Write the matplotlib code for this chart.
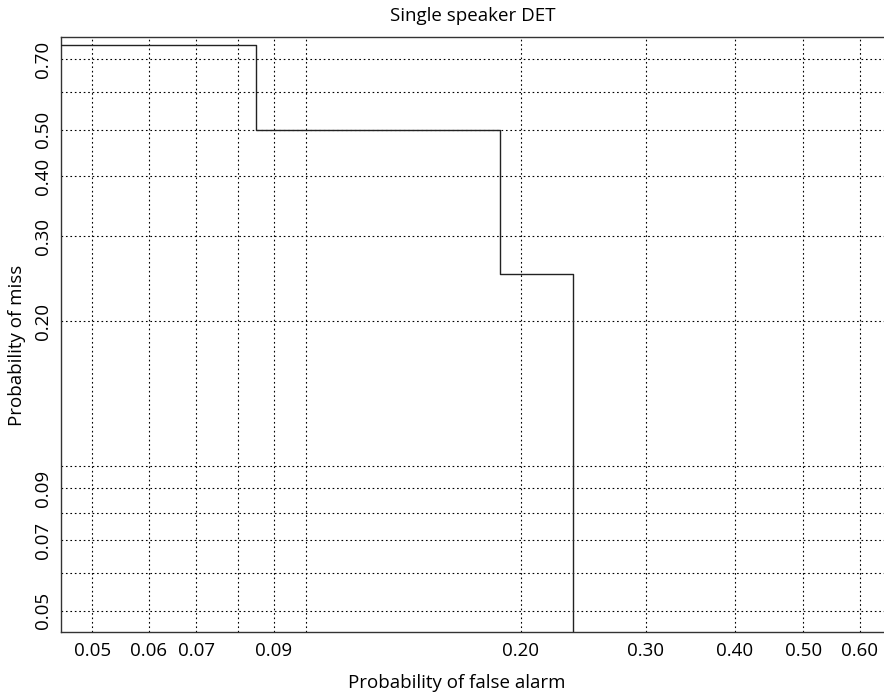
import numpy as np
import matplotlib.pyplot as plt
from matplotlib.ticker import FixedLocator, NullFormatter, FixedFormatter

plt.rcParams['font.family'] = ['Open Sans', 'DejaVu Sans']

# step curve of the detector: false alarm / miss probabilities
p_fa = [0.0452, 0.085, 0.187, 0.237]
p_miss = [0.75, 0.50, 0.25, 0.01]

x_grid = [0.05, 0.06, 0.07, 0.08, 0.09, 0.10, 0.20, 0.30, 0.40, 0.50, 0.60]
x_labels = [0.05, 0.06, 0.07, 0.09, 0.20, 0.30, 0.40, 0.50, 0.60]
y_grid = [0.05, 0.06, 0.07, 0.08, 0.09, 0.10, 0.20, 0.30, 0.40, 0.50, 0.60, 0.70]
y_labels = [0.05, 0.07, 0.09, 0.20, 0.30, 0.40, 0.50, 0.70]

fs = 13.5

fig = plt.figure(figsize=(8.84, 6.94), dpi=100)
ax = fig.add_axes([0.0693, 0.0889, 1.0 - 0.0693, 0.9463 - 0.0889])

ax.set_xscale('log')
ax.set_yscale('log')
ax.set_xlim(0.0452, 0.649)
ax.set_ylim(0.0451, 0.778)

# grid lines (dotted)
for v in x_grid:
    ax.axvline(v, color='black', lw=0.8, linestyle=(0, (1.5, 2.5)), zorder=1)
for v in y_grid:
    ax.axhline(v, color='black', lw=0.8, linestyle=(0, (1.5, 2.5)), zorder=1)

ax.step(p_fa, p_miss, where='post', color='#222222', lw=1.0, zorder=3)

ax.xaxis.set_major_locator(FixedLocator(x_labels))
ax.xaxis.set_major_formatter(FixedFormatter(['%.2f' % v for v in x_labels]))
ax.xaxis.set_minor_locator(FixedLocator([]))
ax.xaxis.set_minor_formatter(NullFormatter())
ax.yaxis.set_major_locator(FixedLocator(y_labels))
ax.yaxis.set_major_formatter(FixedFormatter(['%.2f' % v for v in y_labels]))
ax.yaxis.set_minor_locator(FixedLocator([]))
ax.yaxis.set_minor_formatter(NullFormatter())

ax.tick_params(axis='both', length=0, labelsize=fs, pad=7)
for lab in ax.get_yticklabels():
    lab.set_rotation(90)
    lab.set_va('center')

ax.spines['right'].set_visible(False)
for s in ['top', 'left', 'bottom']:
    ax.spines[s].set_linewidth(1.0)
    ax.spines[s].set_color('#333333')

ax.set_title('Single speaker DET', fontsize=fs, y=1.0358, pad=0, va='center')
ax.set_xlabel('Probability of false alarm', fontsize=fs)
ax.xaxis.label.set_va('center')
ax.xaxis.set_label_coords(0.481, -0.0851)
ax.set_ylabel('Probability of miss', fontsize=fs)
ax.yaxis.label.set_va('center')
ax.yaxis.set_label_coords(-0.0538, 0.483)

fig.savefig('out.png', dpi=100)
